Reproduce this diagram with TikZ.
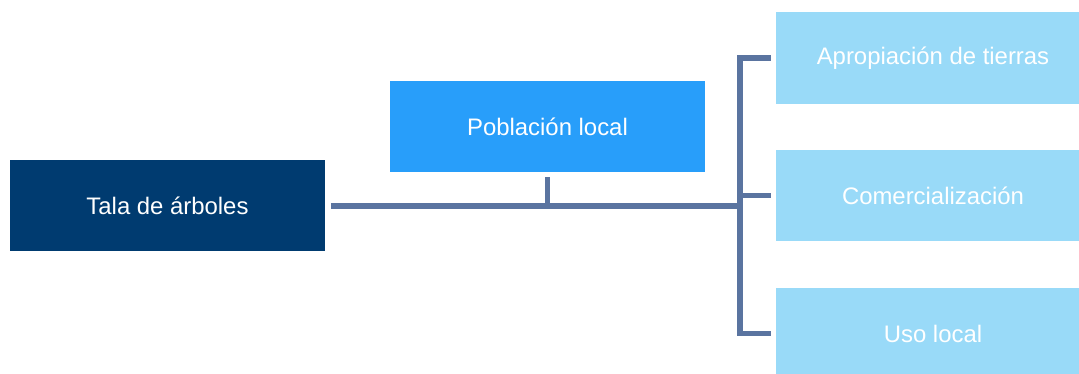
\documentclass[tikz,border=0pt]{standalone}
\usepackage{fontspec}
\setmainfont{Liberation Sans}
\usepackage{tikz}
\usepackage{xcolor}
\usetikzlibrary{calc, positioning}

\definecolor{darkblue}{HTML}{003B70}
\definecolor{midblue}{HTML}{289EFA}
\definecolor{paleblue}{HTML}{99DAF8}
\definecolor{linkgray}{HTML}{5A74A0}

\tikzset{
    box/.style={rectangle, inner sep=0pt, outer sep=0pt, text=white,
        font=\fontsize{13.6}{16}\selectfont},
    mainbox/.style={box, fill=darkblue, minimum width=6.3cm, minimum height=1.82cm},
    agentbox/.style={box, fill=midblue, minimum width=6.3cm, minimum height=1.82cm},
    usebox/.style={box, fill=paleblue, minimum width=6.3cm, minimum height=1.84cm},
    link/.style={draw=linkgray, line width=3.4pt}
}

\begin{document}
\begin{tikzpicture}[x=0.02cm, y=-0.02cm]
    \useasboundingbox (0, 0) rectangle (1079, 374);
    % boxes
    \node[mainbox] (tala) at (167.5, 205.5) {Tala de árboles};
    \node[agentbox] (pob) at (547.5, 126.5) {Población local};
    \node[usebox] (ap) at (933, 58) {Apropiación de tierras};
    \node[usebox] (com) at (933, 195.5) {Comercialización};
    \node[usebox] (uso) at (933, 333.5) {Uso local};
    \fill[paleblue] (uso.south west) rectangle ++(316, 10);
    % connectors
    \coordinate (brk) at (740, 206);
    \draw[link, shorten <=3.4pt] (tala.east |- brk) -- (brk);
    \draw[link, shorten <=3pt] (pob.south) -- (pob.south |- brk);
    \draw[link, shorten <=2.8pt, shorten >=2.8pt] (ap.west) -- (brk |- ap.west) -- (brk |- uso.west) -- (uso.west);
    \draw[link, shorten >=2.8pt] (brk |- com.west) -- (com.west);
\end{tikzpicture}
\end{document}
